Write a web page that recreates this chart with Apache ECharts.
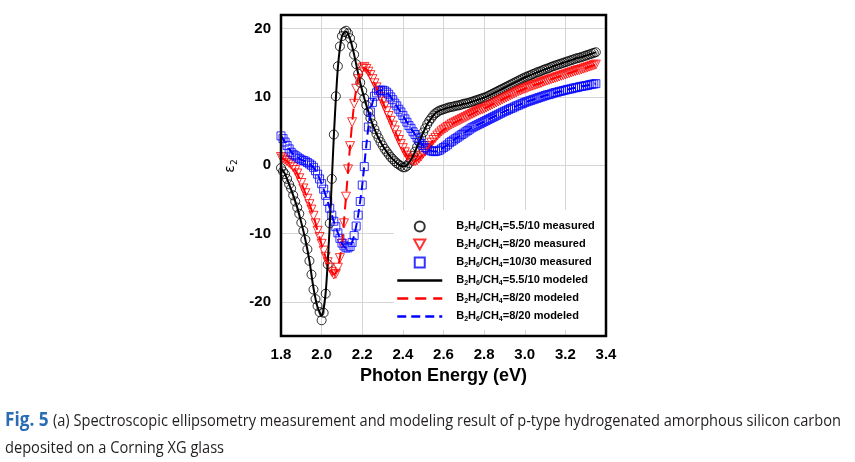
<!DOCTYPE html>
<html>
<head>
<meta charset="utf-8">
<script src="https://cdn.jsdelivr.net/npm/echarts@6/dist/echarts.min.js"></script>
<style>
html,body{margin:0;padding:0;background:#fff;}
#chart{width:855px;height:462px;}
</style>
</head>
<body>
<div id="chart"></div>
<script>
// ---------- DATA ----------
const energy = [
1.80,1.81,1.82,1.83,1.84,1.85,1.86,1.87,1.88,1.89,
1.90,1.91,1.92,1.93,1.94,1.95,1.96,1.97,1.98,1.99,
2.00,2.01,2.02,2.03,2.04,2.05,2.06,2.07,2.08,2.09,
2.10,2.11,2.12,2.13,2.14,2.15,2.16,2.17,2.18,2.19,
2.20,2.21,2.22,2.23,2.24,2.25,2.26,2.27,2.28,2.29,
2.30,2.31,2.32,2.33,2.34,2.35,2.36,2.37,2.38,2.39,
2.40,2.41,2.42,2.43,2.44,2.45,2.46,2.47,2.48,2.49,
2.50,2.51,2.52,2.53,2.54,2.55,2.56,2.57,2.58,2.59,
2.60,2.61,2.62,2.63,2.64,2.65,2.66,2.67,2.68,2.69,
2.70,2.71,2.72,2.73,2.74,2.75,2.76,2.77,2.78,2.79,
2.80,2.81,2.82,2.83,2.84,2.85,2.86,2.87,2.88,2.89,
2.90,2.91,2.92,2.93,2.94,2.95,2.96,2.97,2.98,2.99,
3.00,3.01,3.02,3.03,3.04,3.05,3.06,3.07,3.08,3.09,
3.10,3.11,3.12,3.13,3.14,3.15,3.16,3.17,3.18,3.19,
3.20,3.21,3.22,3.23,3.24,3.25,3.26,3.27,3.28,3.29,
3.30,3.31,3.32,3.33,3.34,3.35];

const measured55_10 = [
-0.4,-0.9,-1.3,-2.0,-2.8,-3.4,-4.4,-5.3,-6.2,-7.1,
-8.4,-9.6,-10.9,-12.3,-14.0,-16.0,-18.2,-19.6,-20.6,-21.5,
-22.7,-21.6,-18.8,-14.5,-8.5,-2.0,4.5,10.1,14.5,17.4,
18.9,19.5,19.7,19.3,18.6,17.5,16.2,14.8,13.4,12.1,
10.9,9.8,8.8,7.8,6.9,6.1,5.3,4.6,4.0,3.4,
2.9,2.4,2.0,1.6,1.2,0.9,0.6,0.3,0.1,-0.1,
-0.3,-0.3,-0.1,0.3,0.8,1.4,2.0,2.7,3.4,4.1,
4.8,5.4,6.0,6.5,6.9,7.3,7.6,7.8,8.0,8.1,
8.2,8.3,8.4,8.5,8.55,8.6,8.7,8.75,8.8,8.9,
9.0,9.05,9.1,9.2,9.3,9.4,9.5,9.6,9.7,9.8,
9.9,10.0,10.15,10.3,10.45,10.6,10.75,10.9,11.05,11.2,
11.35,11.5,11.65,11.8,11.95,12.1,12.25,12.4,12.55,12.7,
12.85,12.95,13.1,13.2,13.35,13.45,13.6,13.7,13.8,13.95,
14.05,14.15,14.25,14.4,14.5,14.6,14.7,14.8,14.9,15.0,
15.1,15.2,15.3,15.4,15.5,15.6,15.7,15.75,15.85,15.95,
16.05,16.15,16.25,16.35,16.45,16.55];

const measured8_20 = [
1.2,1.0,0.8,0.6,0.35,0.1,-0.3,-0.7,-1.2,-1.9,
-2.6,-3.4,-4.1,-4.9,-5.7,-6.5,-7.4,-8.5,-9.6,-10.5,
-11.5,-12.5,-13.4,-14.2,-15.0,-15.6,-16.0,-15.9,-15.0,-13.6,
-11.5,-8.5,-4.6,-0.6,2.8,6.3,9.0,11.2,12.6,13.6,
14.2,14.4,14.1,13.7,13.2,12.6,12.0,11.4,10.7,10.0,
9.3,8.6,7.9,7.2,6.5,5.8,5.1,4.4,3.7,3.1,
2.5,1.9,1.4,1.0,0.8,0.6,0.6,0.7,1.0,1.3,
1.7,2.0,2.4,2.8,3.3,3.7,4.0,4.35,4.65,4.95,
5.2,5.4,5.6,5.8,6.0,6.15,6.3,6.45,6.6,6.75,
6.9,7.05,7.2,7.35,7.5,7.65,7.8,7.95,8.1,8.2,
8.3,8.45,8.6,8.75,8.9,9.05,9.2,9.35,9.5,9.65,
9.8,9.95,10.1,10.25,10.4,10.55,10.7,10.85,10.95,11.1,
11.2,11.3,11.45,11.55,11.65,11.75,11.85,11.95,12.05,12.2,
12.3,12.4,12.5,12.6,12.7,12.8,12.9,13.0,13.1,13.2,
13.3,13.4,13.5,13.6,13.7,13.8,13.9,13.95,14.05,14.15,
14.25,14.35,14.45,14.55,14.65,14.75];

const measured10_30 = [
4.3,3.9,3.4,2.9,2.4,1.9,1.6,1.4,1.2,1.0,
0.8,0.7,0.6,0.4,0.2,0.0,-0.3,-0.8,-1.3,-2.0,
-2.7,-3.5,-4.4,-5.3,-6.3,-7.3,-8.2,-9.0,-9.9,-10.7,
-11.4,-11.8,-12.1,-12.1,-11.9,-11.3,-10.3,-8.9,-7.3,-5.3,
-2.9,-0.2,2.9,5.6,7.8,9.2,10.1,10.6,10.9,11.0,
11.0,10.9,10.7,10.4,10.0,9.6,9.1,8.7,8.2,7.8,
7.3,6.8,6.3,5.8,5.4,4.9,4.5,4.0,3.6,3.2,
2.9,2.6,2.4,2.2,2.1,2.0,2.0,2.1,2.2,2.4,
2.6,2.8,3.0,3.3,3.5,3.7,3.9,4.1,4.3,4.5,
4.7,4.9,5.1,5.3,5.5,5.65,5.8,5.95,6.1,6.25,
6.4,6.55,6.7,6.85,7.0,7.15,7.3,7.45,7.6,7.75,
7.9,8.0,8.15,8.3,8.4,8.55,8.7,8.8,8.95,9.05,
9.2,9.3,9.4,9.5,9.6,9.7,9.8,9.9,10.0,10.1,
10.2,10.3,10.35,10.45,10.55,10.65,10.7,10.8,10.85,10.95,
11.0,11.1,11.15,11.2,11.3,11.35,11.4,11.5,11.55,11.6,
11.65,11.7,11.8,11.85,11.9,11.95];

const modelEnergy = [
1.80,1.82,1.84,1.86,1.88,1.90,1.92,1.94,1.96,1.98,
2.00,2.02,2.04,2.06,2.08,2.10,2.12,2.14,2.16,2.18,
2.20,2.22,2.24,2.26,2.28,2.30,2.32,2.34,2.36,2.38,
2.40,2.42,2.44,2.46,2.48,2.50,2.52,2.54,2.56,2.58,
2.60,2.62,2.64,2.66,2.68,2.70,2.72,2.74,2.76,2.78,
2.80,2.82,2.84,2.86,2.88,2.90,2.92,2.94,2.96,2.98,
3.00,3.02,3.04,3.06,3.08,3.10,3.12,3.14,3.16,3.18,
3.20,3.22,3.24,3.26,3.28,3.30,3.32,3.34,3.35];

const modeled55_10 = [
-0.4,-1.3,-2.8,-4.4,-6.2,-8.4,-10.9,-14.0,-18.0,-20.8,
-22.0,-18.6,-8.8,4.2,14.3,18.9,19.6,18.5,16.2,13.4,
10.9,8.8,6.9,5.3,4.0,2.9,2.0,1.2,0.6,0.1,
-0.2,0.0,0.8,2.0,3.4,4.8,6.0,6.9,7.6,8.0,
8.2,8.4,8.55,8.7,8.8,9.0,9.1,9.3,9.5,9.7,
9.9,10.15,10.45,10.75,11.05,11.35,11.65,11.95,12.25,12.55,
12.85,13.1,13.35,13.6,13.8,14.05,14.25,14.5,14.7,14.9,
15.1,15.3,15.5,15.7,15.85,16.05,16.25,16.45,16.55];

const modeled8_20 = [
1.2,0.8,0.35,-0.3,-1.2,-2.6,-4.1,-5.7,-7.4,-9.6,
-11.6,-13.5,-15.0,-16.0,-15.0,-11.5,-4.6,2.8,9.0,12.6,
14.2,14.1,13.2,12.0,10.7,9.3,7.9,6.5,5.1,3.7,
2.5,1.4,0.8,0.6,1.0,1.7,2.4,3.3,4.0,4.65,
5.2,5.6,6.0,6.3,6.6,6.9,7.2,7.5,7.8,8.1,
8.3,8.6,8.9,9.2,9.5,9.8,10.1,10.4,10.7,10.95,
11.2,11.45,11.65,11.85,12.05,12.3,12.5,12.7,12.9,13.1,
13.3,13.5,13.7,13.9,14.05,14.25,14.45,14.65,14.75];

const modeled10_30 = [
4.3,3.4,2.4,1.6,1.2,0.8,0.6,0.2,-0.3,-1.3,
-2.7,-4.4,-6.3,-8.2,-9.9,-11.4,-12.1,-11.9,-10.3,-7.3,
-2.9,2.9,7.8,10.1,10.9,11.0,10.7,10.0,9.1,8.2,
7.3,6.3,5.4,4.5,3.6,2.9,2.4,2.1,2.0,2.2,
2.6,3.0,3.5,3.9,4.3,4.7,5.1,5.5,5.8,6.1,
6.4,6.7,7.0,7.3,7.6,7.9,8.15,8.4,8.7,8.95,
9.2,9.4,9.6,9.8,10.0,10.2,10.35,10.55,10.7,10.85,
11.0,11.15,11.3,11.4,11.55,11.65,11.8,11.9,11.95];

const xTicks = [1.8, 2.0, 2.2, 2.4, 2.6, 2.8, 3.0, 3.2, 3.4];
const yTicks = [-20, -10, 0, 10, 20];

const seriesKeys = ['m1', 'm2', 'm3', 'l1', 'l2', 'l3'];
const legendTexts = [
  '{n|B}{s|2}{n|H}{s|6}{n|/CH}{s|4}{n|=5.5/10 measured}',
  '{n|B}{s|2}{n|H}{s|6}{n|/CH}{s|4}{n|=8/20 measured}',
  '{n|B}{s|2}{n|H}{s|6}{n|/CH}{s|4}{n|=10/30 measured}',
  '{n|B}{s|2}{n|H}{s|6}{n|/CH}{s|4}{n|=5.5/10 modeled}',
  '{n|B}{s|2}{n|H}{s|6}{n|/CH}{s|4}{n|=8/20 modeled}',
  '{n|B}{s|2}{n|H}{s|6}{n|/CH}{s|4}{n|=8/20 modeled}'
];
const captionFig = 'Fig. 5';
const captionLine1 = '(a) Spectroscopic ellipsometry measurement and modeling result of p-type hydrogenated amorphous silicon carbon';
const captionLine2 = 'deposited on a Corning XG glass';
const xAxisTitle = 'Photon Energy (eV)';

// ---------- CHART ----------
const pair = (xs, ys) => xs.map((x, i) => [x, ys[i]]);
const FONT = '"Liberation Sans", Arial, sans-serif';

function measure(str, font) {
  const c = document.createElement('canvas').getContext('2d');
  c.font = font;
  return c.measureText(str).width;
}
const capFontFig = 'bold 20px "Open Sans"';
const capFont = '17px "Open Sans"';
const wFig = measure(captionFig, capFontFig);
const wL1 = measure(captionLine1, capFont);
const capGap = 5;
const capScale = (841 - 5) / (wFig + capGap + wL1);

const chart = echarts.init(document.getElementById('chart'), null, {renderer: 'canvas'});

const scatterBase = (name, ys, color, symbol, size, rotate) => ({
  name, type: 'scatter', data: pair(energy, ys), symbol, symbolSize: size,
  symbolRotate: rotate || 0,
  itemStyle: {color: 'rgba(0,0,0,0)', borderColor: color, borderWidth: 1},
  z: 3
});
const lineBase = (name, ys, color, type) => ({
  name, type: 'line', data: pair(modelEnergy, ys), symbol: 'none', showSymbol: false,
  smooth: 0.25,
  lineStyle: {color, width: 2, type},
  itemStyle: {color: 'rgba(0,0,0,0)', borderColor: 'rgba(0,0,0,0)', borderWidth: 0},
  z: 4
});

chart.setOption({
  animation: false,
  backgroundColor: '#fff',
  grid: {left: 281, right: 249, top: 15, bottom: 126, show: true, borderColor: '#000', borderWidth: 2.5, backgroundColor: 'rgba(0,0,0,0)', z: 5},
  xAxis: {
    type: 'value', min: 1.8, max: 3.4, interval: 0.2,
    name: xAxisTitle, nameLocation: 'middle', nameGap: 30,
    nameTextStyle: {fontFamily: FONT, fontWeight: 'bold', fontSize: 18, color: '#000'},
    axisLine: {show: false},
    axisTick: {show: false},
    axisLabel: {fontFamily: FONT, fontWeight: 'bold', fontSize: 15, color: '#000', margin: 11,
      formatter: v => {
        const t = xTicks.find(k => Math.abs(k - v) < 1e-6);
        return t === undefined ? '' : t.toFixed(1);
      }},
    splitLine: {show: true, lineStyle: {color: '#d6d6d6', width: 1}}
  },
  yAxis: {
    type: 'value', min: -25, max: 22, interval: 5,
    axisLine: {show: false},
    axisTick: {show: false},
    axisLabel: {fontFamily: FONT, fontWeight: 'bold', fontSize: 15, color: '#000', margin: 10,
      formatter: v => {
        const t = yTicks.find(k => Math.abs(k - v) < 1e-6);
        return t === undefined ? '' : String(t);
      }},
    splitLine: {show: true, lineStyle: {color: ['rgba(0,0,0,0)', '#d6d6d6'], width: 1}}
  },
  legend: {
    orient: 'vertical', left: 394, top: 210,
    padding: [10, 12, 7, 2], itemGap: 5, itemWidth: 45, itemHeight: 10,
    symbolRotate: 0,
    lineStyle: {width: 2.5},
    backgroundColor: '#fff', selectedMode: false,
    data: [
      {name: 'm1', icon: 'circle'},
      {name: 'm2', icon: 'path://M0,0L10,0L5,9Z'},
      {name: 'm3', icon: 'path://M0,0L9,0L9,9L0,9Z'},
      {name: 'l1'}, {name: 'l2'}, {name: 'l3'}
    ],
    formatter: name => legendTexts[seriesKeys.indexOf(name)],
    textStyle: {
      padding: [0, 0, 0, 9],
      rich: {
        n: {fontFamily: FONT, fontWeight: 'bold', fontSize: 11, color: '#000', verticalAlign: 'top', lineHeight: 13},
        s: {fontFamily: FONT, fontWeight: 'bold', fontSize: 7, color: '#000', verticalAlign: 'top', padding: [6, 0, 0, 0], lineHeight: 8}
      }
    }
  },
  series: [
    scatterBase('m1', measured55_10, '#000000', 'circle', 9),
    scatterBase('m2', measured8_20, '#ff0000', 'triangle', 9, 180),
    scatterBase('m3', measured10_30, '#0000ff', 'rect', 8),
    lineBase('l1', modeled55_10, '#000000', 'solid'),
    lineBase('l2', modeled8_20, '#ff0000', [11, 7]),
    lineBase('l3', modeled10_30, '#0000ff', [9, 5])
  ],
  graphic: [
    {
      type: 'text', x: 231, y: 166, rotation: Math.PI / 2,
      style: {
        text: '{e|ε}{s|2}', align: 'center', verticalAlign: 'middle',
        rich: {
          e: {fontFamily: '"DejaVu Sans", sans-serif', fontSize: 14, fill: '#000', verticalAlign: 'top', lineHeight: 15},
          s: {fontFamily: '"DejaVu Sans", sans-serif', fontSize: 9, fill: '#000', verticalAlign: 'top', padding: [7, 0, 0, 0], lineHeight: 10}
        }
      }
    },
    {
      type: 'group', x: 5, y: 420, scaleX: capScale,
      children: [
        {type: 'text', x: 0, y: 0, style: {text: captionFig, font: capFontFig, fill: '#2a6db5', verticalAlign: 'middle'}},
        {type: 'text', x: wFig + capGap, y: 1, style: {text: captionLine1, font: capFont, fill: '#231f20', verticalAlign: 'middle'}}
      ]
    },
    {
      type: 'group', x: 5, y: 448, scaleX: capScale,
      children: [
        {type: 'text', x: 0, y: 0, style: {text: captionLine2, font: capFont, fill: '#231f20', verticalAlign: 'middle'}}
      ]
    }
  ]
});
</script>
</body>
</html>
